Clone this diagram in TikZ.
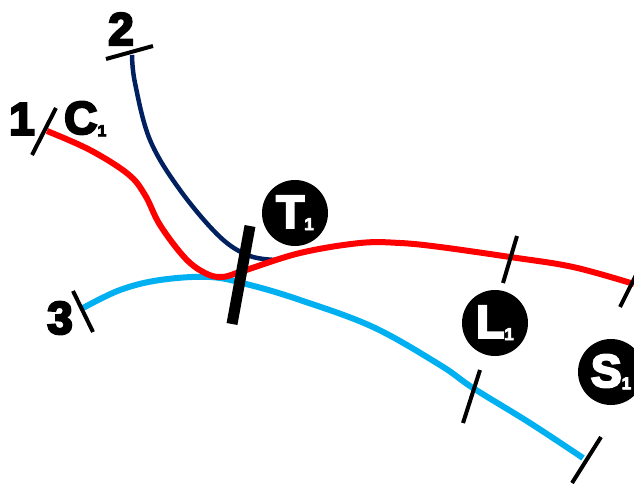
\documentclass[tikz,border=0pt]{standalone}
\usepackage{fontspec}
\newfontfamily\heavy{Liberation Sans Bold}[FakeBold=5]
\begin{document}
\begin{tikzpicture}[x=1pt,y=-1pt,
  tick/.style={line width=4pt,black},
  bigtick/.style={line width=11pt,black},
  num/.style={font=\heavy\fontsize{46}{46}\selectfont,inner sep=0pt},
  badge/.style={circle,fill=black,minimum size=66pt,inner sep=0pt,text=white,font=\heavy\fontsize{46}{46}\selectfont},
  road/.style={line width=6pt,smooth,tension=0.6}]
\useasboundingbox (0,0) rectangle (634,484);
\definecolor{rred}{RGB}{255,0,0}
\definecolor{rnavy}{RGB}{0,32,96}
\definecolor{rcyan}{RGB}{0,176,240}
% curves
\draw[road,rcyan] plot coordinates {(83,308) (120,290) (160,280) (210,277) (250,285) (300,300) (373,327) (440,365) (473,388) (530,423) (583,458)};
\draw[road,rnavy,line width=4.5pt] plot coordinates {(132,55) (135,83) (150,140) (180,190) (220,237) (250,256) (278,260)};
\draw[road,rred] plot coordinates {(47,131) (90,150) (128,174) (145,195) (160,225) (185,258) (205,273) (222,277) (243,271) (300,253) (360,243) (400,243) (440,247) (510,257) (573,267) (634,284)};
% ticks
\coordinate (t2a) at (106,59); \coordinate (t2b) at (153,46);
\coordinate (t1a) at (32,155); \coordinate (t1b) at (56,108);
\coordinate (t3a) at (73,291); \coordinate (t3b) at (93,332);
\coordinate (tla) at (503,283); \coordinate (tlb) at (517,236);
\coordinate (tra) at (620,307); \coordinate (trb) at (636,275);
\coordinate (tca) at (463,423); \coordinate (tcb) at (480,370);
\coordinate (tea) at (572,483); \coordinate (teb) at (601,437);
\coordinate (tta) at (232,324); \coordinate (ttb) at (250,226);
\draw[tick] (t2a) -- (t2b);
\draw[tick] (t1a) -- (t1b);
\draw[tick] (t3a) -- (t3b);
\draw[tick] (tla) -- (tlb);
\draw[tick] (tra) -- (trb);
\draw[tick] (tca) -- (tcb);
\draw[tick] (tea) -- (teb);
\draw[bigtick] (tta) -- (ttb);
% labels
\node[num] (n2) at (121,29) {2};
\node[num] (n1) at (22,119) {1};
\node[num] (n3) at (60,318) {3};
\node[num,anchor=west] (c1) at (64,119) {C\raisebox{-0.1ex}{\fontsize{16}{16}\selectfont 1}};
\node[badge] (T1) at (295,213) {T\raisebox{-0.1ex}{\fontsize{17}{17}\selectfont 1}};
\node[badge] (L1) at (495,323) {L\raisebox{-0.1ex}{\fontsize{17}{17}\selectfont 1}};
\node[badge] (S1) at (611,372) {S\raisebox{-0.1ex}{\fontsize{17}{17}\selectfont 1}};
\end{tikzpicture}
\end{document}
